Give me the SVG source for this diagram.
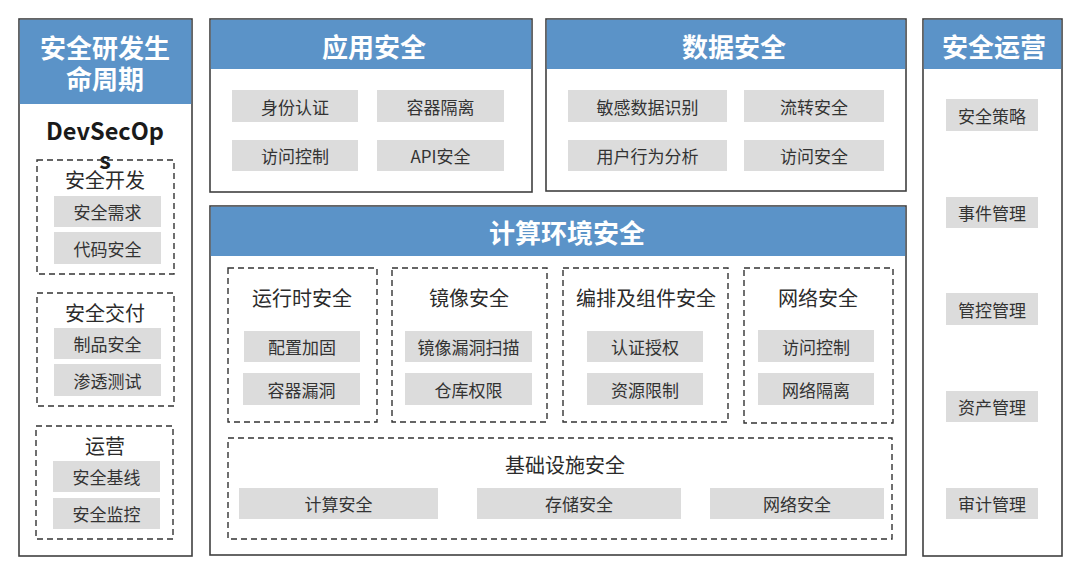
<svg xmlns="http://www.w3.org/2000/svg" width="1080" height="577" viewBox="0 0 1080 577">
<style>
text{font-family:"Microsoft YaHei","Noto Sans CJK SC","Noto Sans",sans-serif;dominant-baseline:central;text-anchor:middle;fill:#333}
.panel{fill:#fff;stroke:#404040;stroke-width:1.6}
.hdr{fill:#5b93c8}
.ht{font-size:26px;font-weight:bold;fill:#fff}
.dash{fill:none;stroke:#333;stroke-width:1.4;stroke-dasharray:6 4}
.item{fill:#dcdcdc}
.it{font-size:17px}
.st{font-size:20px;fill:#2b2b2b}
.dev{font-size:23.5px;font-weight:bold;fill:#1a1a1a}
</style>
<rect width="1080" height="577" fill="#fff"/>

<g id="sdl">
<rect class="panel" x="19" y="19" width="173" height="537"/>
<rect class="hdr" x="19.8" y="19.8" width="171.4" height="84.2"/>
<text class="ht" x="105" y="46">安全研发生</text>
<text class="ht" x="105" y="77">命周期</text>
<text class="dev" x="105" y="130">DevSecOp</text>
<text class="dev" x="105" y="159">s</text>
<g id="dev">
<rect class="dash" x="37" y="160" width="137" height="114"/>
<text class="st" x="105" y="179">安全开发</text>
<rect class="item" x="54" y="196" width="107" height="31"/><text class="it" x="107.5" y="211.5">安全需求</text>
<rect class="item" x="54" y="232" width="107" height="32"/><text class="it" x="107.5" y="248">代码安全</text>
</g>
<g id="deliver">
<rect class="dash" x="37" y="293" width="137" height="113"/>
<text class="st" x="105" y="312">安全交付</text>
<rect class="item" x="54" y="328" width="107" height="31"/><text class="it" x="107.5" y="343.5">制品安全</text>
<rect class="item" x="54" y="364" width="107" height="32"/><text class="it" x="107.5" y="380">渗透测试</text>
</g>
<g id="ops">
<rect class="dash" x="36" y="426" width="137" height="113"/>
<text class="st" x="105" y="445">运营</text>
<rect class="item" x="53" y="461" width="107" height="31"/><text class="it" x="106.5" y="476.5">安全基线</text>
<rect class="item" x="53" y="498" width="107" height="31"/><text class="it" x="106.5" y="513.5">安全监控</text>
</g>
</g>

<g id="app">
<rect class="panel" x="210" y="19" width="322" height="173"/>
<rect class="hdr" x="210.8" y="19.8" width="320.4" height="49.2"/>
<text class="ht" x="374" y="45">应用安全</text>
<rect class="item" x="232" y="90" width="126" height="32"/><text class="it" x="295" y="106">身份认证</text>
<rect class="item" x="377" y="90" width="127" height="32"/><text class="it" x="440.5" y="106">容器隔离</text>
<rect class="item" x="232" y="140" width="126" height="31"/><text class="it" x="295" y="155.5">访问控制</text>
<rect class="item" x="377" y="140" width="127" height="31"/><text class="it" x="440.5" y="155.5">API安全</text>
</g>

<g id="data">
<rect class="panel" x="546" y="19" width="360" height="172"/>
<rect class="hdr" x="546.8" y="19.8" width="358.4" height="49.2"/>
<text class="ht" x="734" y="45">数据安全</text>
<rect class="item" x="568" y="90" width="159" height="32"/><text class="it" x="647.5" y="106">敏感数据识别</text>
<rect class="item" x="744" y="90" width="140" height="32"/><text class="it" x="814" y="106">流转安全</text>
<rect class="item" x="568" y="140" width="159" height="31"/><text class="it" x="647.5" y="155.5">用户行为分析</text>
<rect class="item" x="744" y="140" width="140" height="31"/><text class="it" x="814" y="155.5">访问安全</text>
</g>

<g id="secops">
<rect class="panel" x="923" y="19" width="139" height="537"/>
<rect class="hdr" x="923.8" y="19.8" width="137.4" height="49.2"/>
<text class="ht" x="994" y="45">安全运营</text>
<rect class="item" x="946" y="99" width="92" height="32"/><text class="it" x="992" y="115">安全策略</text>
<rect class="item" x="946" y="197" width="92" height="31"/><text class="it" x="992" y="212.5">事件管理</text>
<rect class="item" x="946" y="293" width="92" height="32"/><text class="it" x="992" y="309">管控管理</text>
<rect class="item" x="946" y="391" width="92" height="31"/><text class="it" x="992" y="406.5">资产管理</text>
<rect class="item" x="946" y="488" width="92" height="31"/><text class="it" x="992" y="503.5">审计管理</text>
</g>

<g id="compute">
<rect class="panel" x="210" y="206" width="696" height="349"/>
<rect class="hdr" x="210.8" y="206.8" width="694.4" height="49.2"/>
<text class="ht" x="567" y="231">计算环境安全</text>
<g id="runtime">
<rect class="dash" x="228" y="268" width="149" height="154"/>
<text class="st" x="302" y="297">运行时安全</text>
<rect class="item" x="244" y="331" width="116" height="31"/><text class="it" x="302" y="346.5">配置加固</text>
<rect class="item" x="243" y="373" width="117" height="32"/><text class="it" x="301.5" y="389">容器漏洞</text>
</g>
<g id="image">
<rect class="dash" x="392" y="268" width="155" height="154"/>
<text class="st" x="469" y="297">镜像安全</text>
<rect class="item" x="405" y="331" width="127" height="31"/><text class="it" x="468.5" y="346.5">镜像漏洞扫描</text>
<rect class="item" x="405" y="373" width="127" height="32"/><text class="it" x="468.5" y="389">仓库权限</text>
</g>
<g id="orch">
<rect class="dash" x="563" y="268" width="165" height="154"/>
<text class="st" x="646" y="297">编排及组件安全</text>
<rect class="item" x="587" y="331" width="116" height="31"/><text class="it" x="645" y="346.5">认证授权</text>
<rect class="item" x="587" y="373" width="116" height="32"/><text class="it" x="645" y="389">资源限制</text>
</g>
<g id="net">
<rect class="dash" x="744" y="268" width="149" height="155"/>
<text class="st" x="818" y="297">网络安全</text>
<rect class="item" x="758" y="330" width="116" height="32"/><text class="it" x="816" y="346">访问控制</text>
<rect class="item" x="758" y="373" width="116" height="32"/><text class="it" x="816" y="389">网络隔离</text>
</g>
<g id="infra">
<rect class="dash" x="228" y="438" width="664" height="101"/>
<text class="st" x="565" y="464">基础设施安全</text>
<rect class="item" x="239" y="488" width="199" height="31"/><text class="it" x="338.5" y="503.5">计算安全</text>
<rect class="item" x="477" y="488" width="204" height="31"/><text class="it" x="579" y="503.5">存储安全</text>
<rect class="item" x="710" y="488" width="174" height="31"/><text class="it" x="797" y="503.5">网络安全</text>
</g>
</g>
<g id="connectors"></g>
</svg>
